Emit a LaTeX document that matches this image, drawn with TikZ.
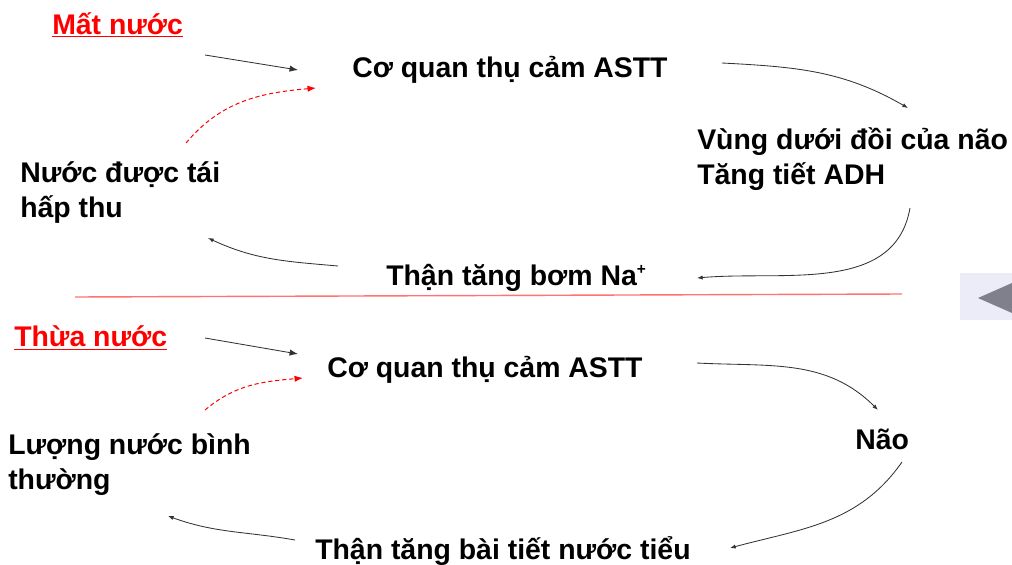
\documentclass[tikz,border=0pt]{standalone}
\usepackage{fontspec}
\setmainfont{Liberation Sans}
\usetikzlibrary{arrows.meta,positioning}

\definecolor{navfill}{RGB}{236,236,248}
\definecolor{navtri}{RGB}{128,128,140}
\definecolor{arrgray}{RGB}{50,50,50}

\newcommand{\ionplus}{\raisebox{0.75ex}{\fontsize{11}{11}\selectfont +}}

\tikzset{
    txt/.style={anchor=west,font=\fontsize{20.2}{25}\selectfont\bfseries,align=left,inner sep=0pt,yshift=-2pt},
    head/.style={txt,text=red},
    arr/.style={arrgray,line width=0.6pt,-{Latex[length=6pt,width=4.5pt]}},
    carr/.style={arrgray,line width=0.6pt,-{Latex[length=4pt,width=3pt]}},
    back/.style={red,line width=0.7pt,dashed,dash pattern=on 3pt off 2pt,-{Latex[length=6pt,width=4.5pt]}}
}

\begin{document}
\begin{tikzpicture}[x=0.025cm,y=0.025cm]
    \useasboundingbox (0,0) rectangle (1012,-565);
    % Upper loop: water loss
    \node[head] (mat) at (52,-22) {\underline{Mất nước}};
    \node[txt] (ast1) at (352,-67) {Cơ quan thụ cảm ASTT};
    \node[txt] (vung) at (697,-156) {Vùng dưới đồi của não\\Tăng tiết ADH};
    \node[txt] (than1) at (386,-275) {Thận tăng bơm Na\ionplus};
    \node[txt] (taihap) at (20,-190) {Nước được tái\\hấp thu};
    % free ends of the connectors
    \coordinate (a1s) at (205,-55);  \coordinate (a1e) at (298,-70);
    \coordinate (b1s) at (186,-143); \coordinate (b1e) at (316,-88);
    \coordinate (c1s) at (722,-63);  \coordinate (c1e) at (908,-108);
    \coordinate (d1s) at (910,-208); \coordinate (d1e) at (697,-278);
    \coordinate (e1s) at (338,-266); \coordinate (e1e) at (208,-238);
    \draw[arr] (a1s) -- (a1e);
    \draw[back] (b1s) to[out=50,in=185] (b1e);
    \draw[carr] (c1s) to[out=-3,in=150] (c1e);
    \draw[carr] (d1s) to[out=-100,in=5] (d1e);
    \draw[carr] (e1s) to[out=175,in=-25] (e1e);
    % Divider
    \draw[red!55,line width=1pt] (75,-297) -- (902,-294);
    % Slide button
    \fill[navfill] (960,-273) rectangle (1012,-320);
    \fill[navtri] (978,-298) -- (1012,-283) -- (1012,-313) -- cycle;
    % Lower loop: water excess
    \node[head] (thua) at (14,-335) {\underline{Thừa nước}};
    \node[txt] (ast2) at (327,-367) {Cơ quan thụ cảm ASTT};
    \node[txt] (nao) at (855,-437) {Não};
    \node[txt] (than2) at (315,-548) {Thận tăng bài tiết nước tiểu};
    \node[txt] (binh) at (8,-462) {Lượng nước bình\\thường};
    \coordinate (a2s) at (205,-338); \coordinate (a2e) at (298,-354);
    \coordinate (b2s) at (205,-410); \coordinate (b2e) at (303,-378);
    \coordinate (c2s) at (697,-363); \coordinate (c2e) at (878,-410);
    \coordinate (d2s) at (902,-462); \coordinate (d2e) at (730,-548);
    \coordinate (e2s) at (295,-540); \coordinate (e2e) at (168,-516);
    \draw[arr] (a2s) -- (a2e);
    \draw[back] (b2s) to[out=40,in=185] (b2e);
    \draw[carr] (c2s) to[out=-3,in=135] (c2e);
    \draw[carr] (d2s) to[out=-125,in=15] (d2e);
    \draw[carr] (e2s) to[out=170,in=-20] (e2e);
\end{tikzpicture}
\end{document}
